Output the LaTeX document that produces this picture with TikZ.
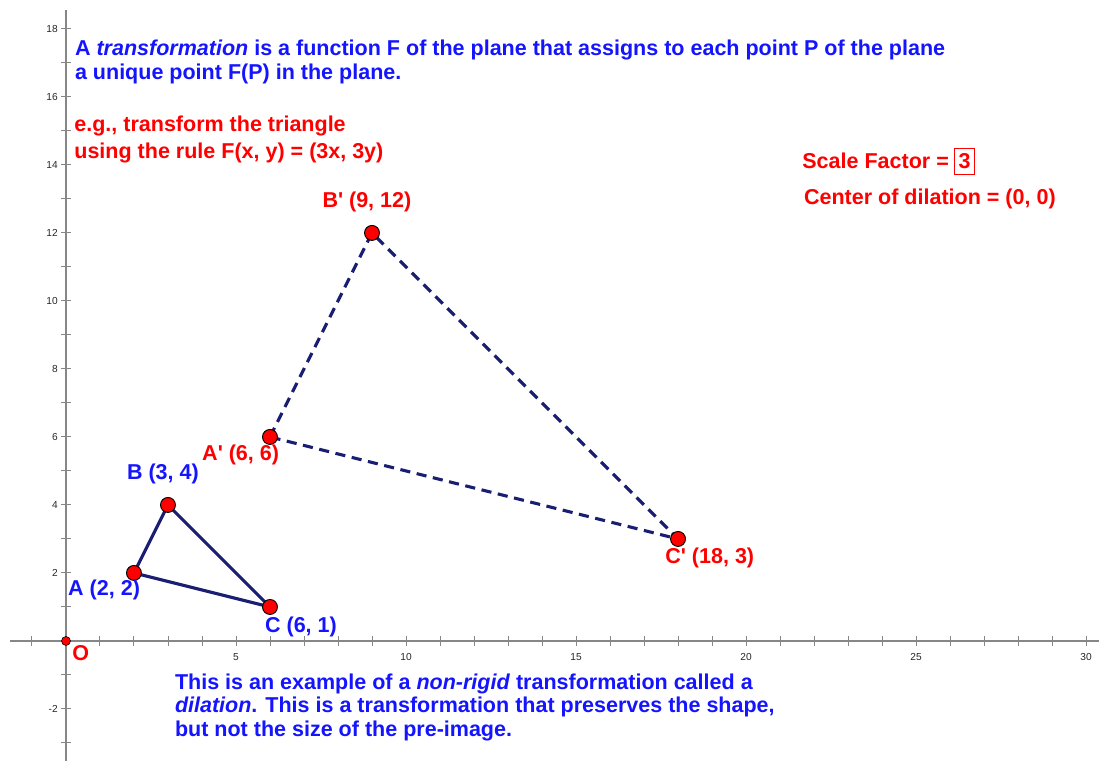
\documentclass[tikz,border=0pt]{standalone}
\usepackage{fontspec}
\setmainfont{Liberation Sans}
\usetikzlibrary{positioning}
\definecolor{ptred}{RGB}{255,0,0}
\definecolor{txtblue}{RGB}{20,20,255}
\definecolor{segnavy}{RGB}{25,30,115}
\definecolor{axgray}{RGB}{135,135,135}
\begin{document}
\begin{tikzpicture}[
            ax/.style={draw=axgray, line width=1.2pt},
            tk/.style={draw=axgray, line width=0.8pt},
            tklbl/.style={text=black!85, font=\fontsize{8.5}{9}\selectfont, inner sep=1pt},
            seg/.style={draw=segnavy, line width=2.6pt, line join=round},
            segd/.style={seg, dash pattern=on 8.5pt off 5.5pt},
            pt/.style={circle, draw=black, fill=ptred, line width=0.8pt, minimum size=12.5pt, inner sep=0pt},
            blbl/.style={text=txtblue, font=\fontsize{18}{20}\selectfont\bfseries, inner sep=0pt, align=left},
            rlbl/.style={text=ptred, font=\fontsize{18}{20}\selectfont\bfseries, inner sep=0pt, align=left}
        ]
            \useasboundingbox (-1.94,-3.53) rectangle (30.38,18.85);
            \clip (-1.94,-3.53) rectangle (30.38,18.85);
            % axes with ticks
            \draw[ax] (-1.65,0) -- (30.6,0);
            \draw[ax] (0,-3.6) -- (0,18.56);
            \foreach \i in {-1,1,2,...,30} \draw[tk] (\i,-0.15) -- (\i,0.15);
            \foreach \j in {-3,-2,-1,1,2,...,18} \draw[tk] (-0.15,\j) -- (0.15,\j);
            \foreach \i in {5,10,...,30} \node[tklbl] (xl\i) at (\i,-0.48) {\i};
            \foreach \j in {-2,2,4,...,18} \node[tklbl, anchor=east] (yl\j) at (-0.2,\j) {\j};

            % pre-image and image
            \coordinate (A) at (2,2);
            \coordinate (B) at (3,4);
            \coordinate (C) at (6,1);
            \coordinate (Ap) at (6,6);
            \coordinate (Bp) at (9,12);
            \coordinate (Cp) at (18,3);
            \draw[seg] (A) -- (B) -- (C) -- cycle;
            \draw[segd] (Ap) -- (Bp) -- (Cp) -- cycle;
            \foreach \p in {A,B,C,Ap,Bp,Cp} \node[pt] (dot\p) at (\p) {};
            \node[pt, minimum size=7.5pt, line width=0.5pt] (dotO) at (0,0) {};

            % point labels
            \node[blbl, anchor=base west] (labA) at (0.06,1.35) {A (2, 2)};
            \node[blbl, anchor=base west] (labB) at (1.79,4.74) {B (3, 4)};
            \node[blbl, anchor=base west] (labC) at (5.85,0.26) {C (6, 1)};
            \node[rlbl, anchor=base west] (labAp) at (4.0,5.32) {A\textquotesingle{} (6, 6)};
            \node[rlbl, anchor=base] (labBp) at (8.85,12.74) {B\textquotesingle{} (9, 12)};
            \node[rlbl, anchor=base west] (labCp) at (17.62,2.29) {C\textquotesingle{} (18, 3)};
            \node[rlbl, anchor=base west] (labO) at (0.18,-0.56) {O};

            % texts (base = last line)
            \node[blbl, anchor=base west] (defn) at (0.26,16.5) {A \textit{transformation} is a function F of the plane that assigns to each point P of the plane\\a unique point F(P) in the plane.};
            \node[rlbl, anchor=base west, font=\fontsize{18}{22}\selectfont\bfseries] (rule) at (0.24,14.2) {e.g., transform the triangle\\using the rule F(x, y) = (3x, 3y)};
            \node[rlbl, anchor=base west] (sf) at (21.65,13.88) {Scale Factor =};
            \node[rlbl, draw=ptred, line width=0.8pt, inner xsep=3.5pt, inner ysep=4.5pt, right=4pt of sf] (sfval) {3};
            \node[rlbl, anchor=base west] (ctr) at (21.7,12.85) {Center of dilation = (0, 0)};
            \node[blbl, anchor=base west] (note) at (3.2,-2.82) {This is an example of a \textit{non-rigid} transformation called a\\\textit{dilation}. This is a transformation that preserves the shape,\\but not the size of the pre-image.};
        \end{tikzpicture}
\end{document}
